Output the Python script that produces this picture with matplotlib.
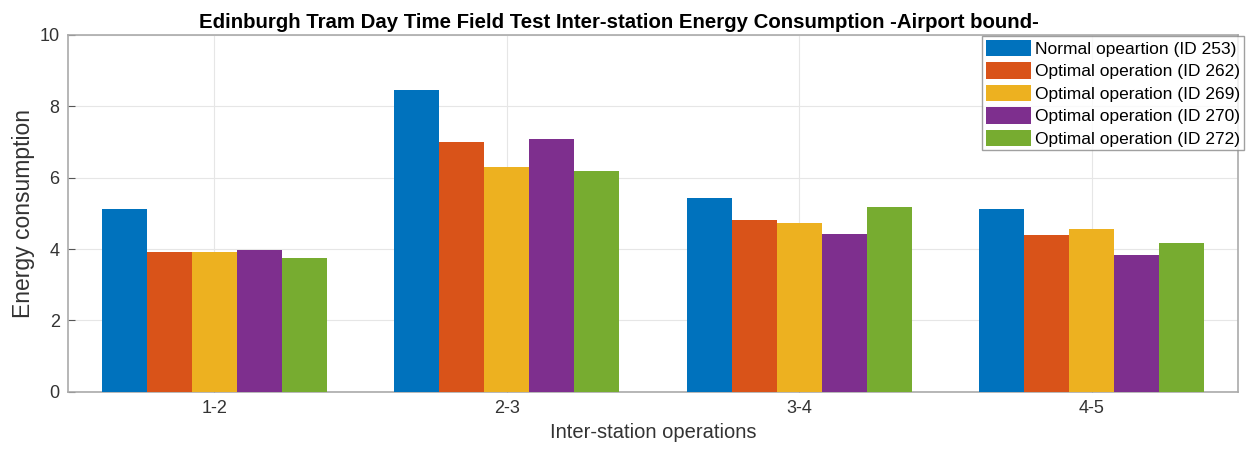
import matplotlib
matplotlib.use("Agg")
import matplotlib.pyplot as plt
import numpy as np

plt.rcParams['font.family'] = ['Liberation Sans', 'DejaVu Sans']

categories = ["1-2", "2-3", "3-4", "4-5"]
series_names = ["Normal opeartion (ID 253)", "Optimal operation (ID 262)",
                "Optimal operation (ID 269)", "Optimal operation (ID 270)",
                "Optimal operation (ID 272)"]
id253 = [5.12, 8.45, 5.43, 5.12]
id262 = [3.92, 7.00, 4.81, 4.39]
id269 = [3.92, 6.30, 4.72, 4.55]
id270 = [3.97, 7.07, 4.42, 3.83]
id272 = [3.75, 6.19, 5.17, 4.16]
series = [id253, id262, id269, id270, id272]
colors = ["#0072BD", "#D95319", "#EDB120", "#7E2F8E", "#77AC30"]

fig = plt.figure(figsize=(12.46, 4.5), dpi=100)
ax = fig.add_axes([0.0546, 0.129, 0.9390, 0.794])

x = np.arange(1, len(categories) + 1)
n = len(series)
group_w = n / (n + 1.5)
bw = group_w / n
for i, (vals, name, c) in enumerate(zip(series, series_names, colors)):
    offs = -group_w / 2 + bw * (i + 0.5)
    ax.bar(x + offs, vals, width=bw, color=c, label=name, edgecolor='none', zorder=3)

ax.set_xlim(0.5, 4.5)
ax.set_ylim(0, 10)
ax.set_xticks(x)
ax.set_xticklabels(categories)
ax.set_yticks([0, 2, 4, 6, 8, 10])
ax.grid(True, color='#e6e6e6', linewidth=0.8, zorder=0)
ax.tick_params(direction='in', colors='#555555', labelcolor='#333333', labelsize=13, length=5)
ax.tick_params(axis='x', pad=6)
ax.tick_params(axis='y', pad=6)
for s in ax.spines.values():
    s.set_color('#aaaaaa')
    s.set_linewidth(1.2)
ax.set_xlabel("Inter-station operations", fontsize=14.5, color='#333333', labelpad=4)
ax.set_ylabel("Energy consumption", fontsize=16.5, color='#333333', labelpad=3)
ax.set_title("Edinburgh Tram Day Time Field Test Inter-station Energy Consumption -Airport bound-",
             fontsize=14.7, fontweight='bold', pad=5, x=0.471)
leg = ax.legend(loc='upper right', bbox_to_anchor=(1.008, 1.005), fontsize=12.5,
                frameon=True, fancybox=False, borderpad=0.2, labelspacing=0.3,
                handlelength=2.6, handleheight=1.1, handletextpad=0.25, borderaxespad=0.2)
leg.get_frame().set_edgecolor('#888888')
leg.get_frame().set_linewidth(1.0)

fig.savefig("out.png", dpi=100)
